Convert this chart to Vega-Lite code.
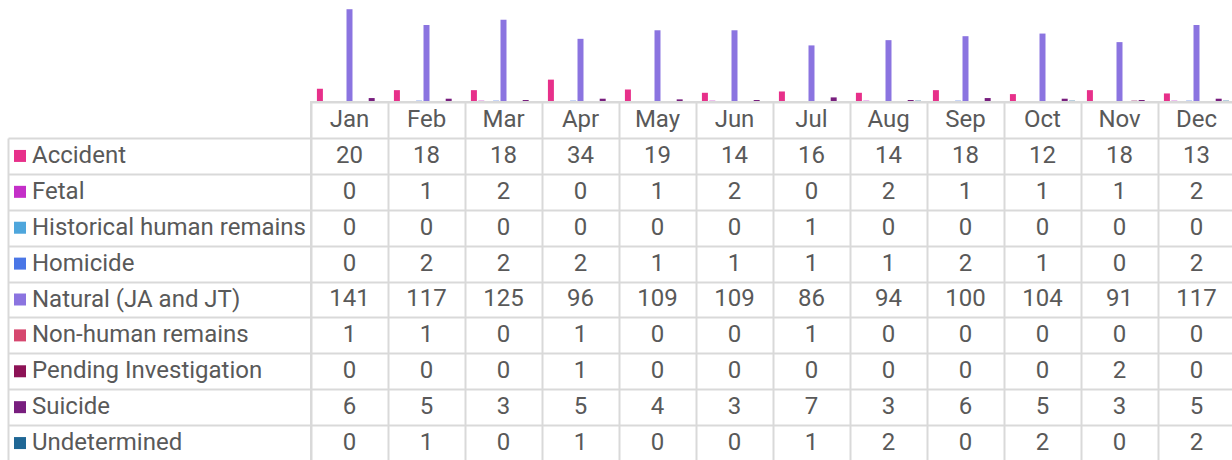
{
  "$schema": "https://vega.github.io/schema/vega-lite/v6.json",
  "padding": {"left": 8, "top": 0, "right": 0, "bottom": 0},
  "spacing": 0,
  "config": {
    "view": {"stroke": null},
    "font": "Roboto",
    "text": {"font": "Roboto"}
  },
  "datasets": {
    "months": [
      {"month": "Jan"}, {"month": "Feb"}, {"month": "Mar"}, {"month": "Apr"},
      {"month": "May"}, {"month": "Jun"}, {"month": "Jul"}, {"month": "Aug"},
      {"month": "Sep"}, {"month": "Oct"}, {"month": "Nov"}, {"month": "Dec"}
    ],
    "counts": [
      {"cause": "Accident", "month": "Jan", "count": 20},
      {"cause": "Accident", "month": "Feb", "count": 18},
      {"cause": "Accident", "month": "Mar", "count": 18},
      {"cause": "Accident", "month": "Apr", "count": 34},
      {"cause": "Accident", "month": "May", "count": 19},
      {"cause": "Accident", "month": "Jun", "count": 14},
      {"cause": "Accident", "month": "Jul", "count": 16},
      {"cause": "Accident", "month": "Aug", "count": 14},
      {"cause": "Accident", "month": "Sep", "count": 18},
      {"cause": "Accident", "month": "Oct", "count": 12},
      {"cause": "Accident", "month": "Nov", "count": 18},
      {"cause": "Accident", "month": "Dec", "count": 13},
      {"cause": "Fetal", "month": "Jan", "count": 0},
      {"cause": "Fetal", "month": "Feb", "count": 1},
      {"cause": "Fetal", "month": "Mar", "count": 2},
      {"cause": "Fetal", "month": "Apr", "count": 0},
      {"cause": "Fetal", "month": "May", "count": 1},
      {"cause": "Fetal", "month": "Jun", "count": 2},
      {"cause": "Fetal", "month": "Jul", "count": 0},
      {"cause": "Fetal", "month": "Aug", "count": 2},
      {"cause": "Fetal", "month": "Sep", "count": 1},
      {"cause": "Fetal", "month": "Oct", "count": 1},
      {"cause": "Fetal", "month": "Nov", "count": 1},
      {"cause": "Fetal", "month": "Dec", "count": 2},
      {"cause": "Historical human remains", "month": "Jan", "count": 0},
      {"cause": "Historical human remains", "month": "Feb", "count": 0},
      {"cause": "Historical human remains", "month": "Mar", "count": 0},
      {"cause": "Historical human remains", "month": "Apr", "count": 0},
      {"cause": "Historical human remains", "month": "May", "count": 0},
      {"cause": "Historical human remains", "month": "Jun", "count": 0},
      {"cause": "Historical human remains", "month": "Jul", "count": 1},
      {"cause": "Historical human remains", "month": "Aug", "count": 0},
      {"cause": "Historical human remains", "month": "Sep", "count": 0},
      {"cause": "Historical human remains", "month": "Oct", "count": 0},
      {"cause": "Historical human remains", "month": "Nov", "count": 0},
      {"cause": "Historical human remains", "month": "Dec", "count": 0},
      {"cause": "Homicide", "month": "Jan", "count": 0},
      {"cause": "Homicide", "month": "Feb", "count": 2},
      {"cause": "Homicide", "month": "Mar", "count": 2},
      {"cause": "Homicide", "month": "Apr", "count": 2},
      {"cause": "Homicide", "month": "May", "count": 1},
      {"cause": "Homicide", "month": "Jun", "count": 1},
      {"cause": "Homicide", "month": "Jul", "count": 1},
      {"cause": "Homicide", "month": "Aug", "count": 1},
      {"cause": "Homicide", "month": "Sep", "count": 2},
      {"cause": "Homicide", "month": "Oct", "count": 1},
      {"cause": "Homicide", "month": "Nov", "count": 0},
      {"cause": "Homicide", "month": "Dec", "count": 2},
      {"cause": "Natural (JA and JT)", "month": "Jan", "count": 141},
      {"cause": "Natural (JA and JT)", "month": "Feb", "count": 117},
      {"cause": "Natural (JA and JT)", "month": "Mar", "count": 125},
      {"cause": "Natural (JA and JT)", "month": "Apr", "count": 96},
      {"cause": "Natural (JA and JT)", "month": "May", "count": 109},
      {"cause": "Natural (JA and JT)", "month": "Jun", "count": 109},
      {"cause": "Natural (JA and JT)", "month": "Jul", "count": 86},
      {"cause": "Natural (JA and JT)", "month": "Aug", "count": 94},
      {"cause": "Natural (JA and JT)", "month": "Sep", "count": 100},
      {"cause": "Natural (JA and JT)", "month": "Oct", "count": 104},
      {"cause": "Natural (JA and JT)", "month": "Nov", "count": 91},
      {"cause": "Natural (JA and JT)", "month": "Dec", "count": 117},
      {"cause": "Non-human remains", "month": "Jan", "count": 1},
      {"cause": "Non-human remains", "month": "Feb", "count": 1},
      {"cause": "Non-human remains", "month": "Mar", "count": 0},
      {"cause": "Non-human remains", "month": "Apr", "count": 1},
      {"cause": "Non-human remains", "month": "May", "count": 0},
      {"cause": "Non-human remains", "month": "Jun", "count": 0},
      {"cause": "Non-human remains", "month": "Jul", "count": 1},
      {"cause": "Non-human remains", "month": "Aug", "count": 0},
      {"cause": "Non-human remains", "month": "Sep", "count": 0},
      {"cause": "Non-human remains", "month": "Oct", "count": 0},
      {"cause": "Non-human remains", "month": "Nov", "count": 0},
      {"cause": "Non-human remains", "month": "Dec", "count": 0},
      {"cause": "Pending Investigation", "month": "Jan", "count": 0},
      {"cause": "Pending Investigation", "month": "Feb", "count": 0},
      {"cause": "Pending Investigation", "month": "Mar", "count": 0},
      {"cause": "Pending Investigation", "month": "Apr", "count": 1},
      {"cause": "Pending Investigation", "month": "May", "count": 0},
      {"cause": "Pending Investigation", "month": "Jun", "count": 0},
      {"cause": "Pending Investigation", "month": "Jul", "count": 0},
      {"cause": "Pending Investigation", "month": "Aug", "count": 0},
      {"cause": "Pending Investigation", "month": "Sep", "count": 0},
      {"cause": "Pending Investigation", "month": "Oct", "count": 0},
      {"cause": "Pending Investigation", "month": "Nov", "count": 2},
      {"cause": "Pending Investigation", "month": "Dec", "count": 0},
      {"cause": "Suicide", "month": "Jan", "count": 6},
      {"cause": "Suicide", "month": "Feb", "count": 5},
      {"cause": "Suicide", "month": "Mar", "count": 3},
      {"cause": "Suicide", "month": "Apr", "count": 5},
      {"cause": "Suicide", "month": "May", "count": 4},
      {"cause": "Suicide", "month": "Jun", "count": 3},
      {"cause": "Suicide", "month": "Jul", "count": 7},
      {"cause": "Suicide", "month": "Aug", "count": 3},
      {"cause": "Suicide", "month": "Sep", "count": 6},
      {"cause": "Suicide", "month": "Oct", "count": 5},
      {"cause": "Suicide", "month": "Nov", "count": 3},
      {"cause": "Suicide", "month": "Dec", "count": 5},
      {"cause": "Undetermined", "month": "Jan", "count": 0},
      {"cause": "Undetermined", "month": "Feb", "count": 1},
      {"cause": "Undetermined", "month": "Mar", "count": 0},
      {"cause": "Undetermined", "month": "Apr", "count": 1},
      {"cause": "Undetermined", "month": "May", "count": 0},
      {"cause": "Undetermined", "month": "Jun", "count": 0},
      {"cause": "Undetermined", "month": "Jul", "count": 1},
      {"cause": "Undetermined", "month": "Aug", "count": 2},
      {"cause": "Undetermined", "month": "Sep", "count": 0},
      {"cause": "Undetermined", "month": "Oct", "count": 2},
      {"cause": "Undetermined", "month": "Nov", "count": 0},
      {"cause": "Undetermined", "month": "Dec", "count": 2}
    ]
  },
  "hconcat": [
    {
      "spacing": 0,
      "bounds": "flush",
      "vconcat": [
        {
          "width": 302,
          "height": 138,
          "data": {"values": []},
          "mark": "point",
          "encoding": {}
        },
        {
          "width": 302,
          "height": 323,
          "data": {"name": "counts"},
          "transform": [{"filter": "datum.month === 'Jan'"}],
          "encoding": {
            "y": {
              "field": "cause",
              "type": "nominal",
              "scale": {
                "domain": ["Accident", "Fetal", "Historical human remains", "Homicide", "Natural (JA and JT)", "Non-human remains", "Pending Investigation", "Suicide", "Undetermined"],
                "paddingInner": 0,
                "paddingOuter": 0
              },
              "axis": {"labels": false, "ticks": false, "domain": true, "domainColor": "#D9D9D9", "domainWidth": 2, "title": null, "grid": true, "tickBand": "extent", "gridColor": "#D9D9D9", "gridWidth": 2}
            }
          },
          "layer": [
            {
              "mark": {"type": "square", "size": 144, "opacity": 1, "filled": true},
              "encoding": {
                "x": {"value": 12},
                "color": {
                  "field": "cause",
                  "type": "nominal",
                  "scale": {
                    "domain": ["Accident", "Fetal", "Historical human remains", "Homicide", "Natural (JA and JT)", "Non-human remains", "Pending Investigation", "Suicide", "Undetermined"],
                    "range": ["#E7308A", "#C42FC8", "#4EA6DC", "#4A76E6", "#8B74E0", "#D6476F", "#8D1256", "#781E7E", "#1F6795"]
                  },
                  "legend": null
                }
              }
            },
            {
              "mark": {"type": "text", "align": "left", "baseline": "middle", "fontSize": 24, "color": "#595959"},
              "encoding": {
                "x": {"value": 24},
                "text": {"field": "cause"}
              }
            }
          ]
        }
      ]
    },
    {
      "spacing": 0,
      "bounds": "flush",
      "vconcat": [
        {
          "width": 924,
          "height": 102,
          "data": {"name": "counts"},
          "mark": {"type": "bar"},
          "encoding": {
            "x": {
              "field": "month",
              "type": "nominal",
              "scale": {"domain": ["Jan", "Feb", "Mar", "Apr", "May", "Jun", "Jul", "Aug", "Sep", "Oct", "Nov", "Dec"], "paddingInner": 0, "paddingOuter": 0},
              "axis": null
            },
            "xOffset": {
              "field": "cause",
              "type": "nominal",
              "scale": {
                "domain": ["Accident", "Fetal", "Historical human remains", "Homicide", "Natural (JA and JT)", "Non-human remains", "Pending Investigation", "Suicide", "Undetermined"],
                "paddingInner": 0.19,
                "paddingOuter": 0.8
              }
            },
            "y": {
              "field": "count",
              "type": "quantitative",
              "scale": {"domain": [0, 155], "nice": false},
              "axis": null
            },
            "color": {
              "field": "cause",
              "type": "nominal",
              "scale": {
                "domain": ["Accident", "Fetal", "Historical human remains", "Homicide", "Natural (JA and JT)", "Non-human remains", "Pending Investigation", "Suicide", "Undetermined"],
                "range": ["#E7308A", "#C42FC8", "#4EA6DC", "#4A76E6", "#8B74E0", "#D6476F", "#8D1256", "#781E7E", "#1F6795"]
              },
              "legend": null
            }
          }
        },
        {
          "width": 924,
          "height": 359,
          "view": {"stroke": "#D9D9D9", "strokeWidth": 2},
          "encoding": {
            "x": {
              "field": "month",
              "type": "nominal",
              "scale": {"domain": ["Jan", "Feb", "Mar", "Apr", "May", "Jun", "Jul", "Aug", "Sep", "Oct", "Nov", "Dec"], "paddingInner": 0, "paddingOuter": 0},
              "axis": {"labels": false, "ticks": false, "domain": false, "title": null, "grid": true, "tickBand": "extent", "gridColor": "#D9D9D9", "gridWidth": 2}
            }
          },
          "layer": [
            {
              "data": {"name": "counts"},
              "mark": {"type": "text", "align": "center", "baseline": "middle", "fontSize": 24, "color": "#595959"},
              "encoding": {
                "y": {
                  "field": "cause",
                  "type": "nominal",
                  "scale": {
                    "domain": ["Month", "Accident", "Fetal", "Historical human remains", "Homicide", "Natural (JA and JT)", "Non-human remains", "Pending Investigation", "Suicide", "Undetermined"],
                    "paddingInner": 0,
                    "paddingOuter": 0
                  },
                  "axis": {"labels": false, "ticks": false, "domain": false, "title": null, "grid": true, "tickBand": "extent", "gridColor": "#D9D9D9", "gridWidth": 2}
                },
                "text": {"field": "count", "type": "quantitative"}
              }
            },
            {
              "data": {"name": "months"},
              "mark": {"type": "text", "align": "center", "baseline": "middle", "fontSize": 24, "color": "#595959"},
              "encoding": {
                "y": {"datum": "Month", "type": "nominal"},
                "text": {"field": "month", "type": "nominal"}
              }
            }
          ]
        }
      ]
    }
  ]
}
